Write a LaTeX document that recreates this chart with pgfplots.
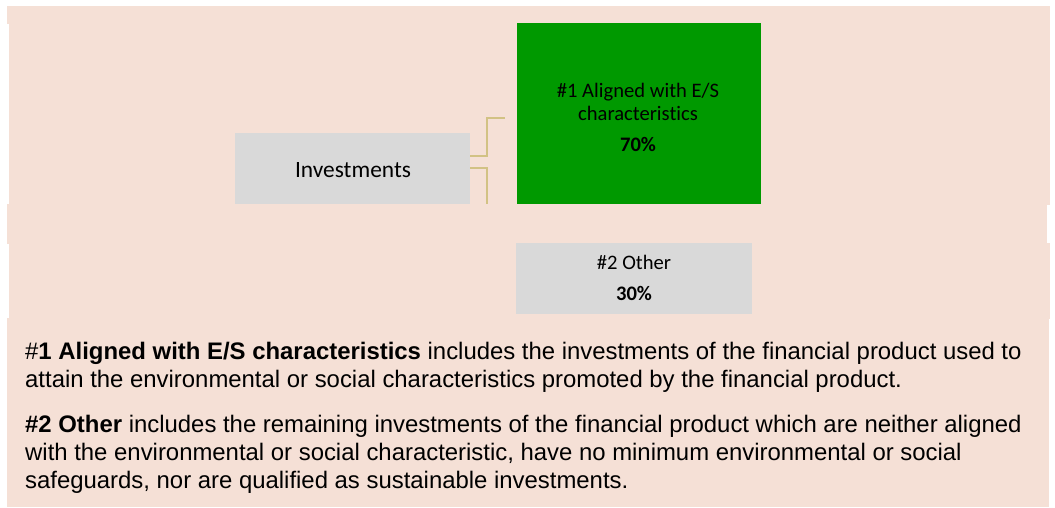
\documentclass[border=0pt]{standalone}
\usepackage{pgfplots}
\pgfplotsset{compat=1.18}
\usepackage{fontspec}
\setmainfont{Liberation Sans}
\newfontfamily\calfont[Ligatures=NoCommon]{Carlito}
\definecolor{peach}{HTML}{F5E0D6}
\definecolor{boxgreen}{HTML}{009900}
\definecolor{boxgrey}{HTML}{D9D9D9}
\definecolor{link}{HTML}{D2C284}

\begin{document}
\begin{tikzpicture}
\begin{axis}[
  width=1055pt, height=507pt, scale only axis,
  xmin=0, xmax=1055, ymin=0, ymax=507, y dir=reverse,
  hide axis, clip=false,
]
% page
\addplot[fill=white, draw=none] coordinates {(0,0) (1055,0) (1055,507) (0,507)} -- cycle;
% peach background, in bands
\addplot[fill=peach, draw=none] coordinates {(7,6) (1050,6) (1050,24) (7,24)} -- cycle;
\addplot[fill=peach, draw=none] coordinates {(9,23) (1050,23) (1050,205) (9,205)} -- cycle;
\addplot[fill=peach, draw=none] coordinates {(7,204) (1047,204) (1047,244) (7,244)} -- cycle;
\addplot[fill=peach, draw=none] coordinates {(9,243) (1050,243) (1050,319) (9,319)} -- cycle;
\addplot[fill=peach, draw=none] coordinates {(7,318) (1049,318) (1049,507) (7,507)} -- cycle;

% boxes
\addplot[fill=boxgrey, draw=none] coordinates {(235,133) (470,133) (470,204) (235,204)} -- cycle;
\addplot[fill=boxgreen, draw=none] coordinates {(517,23) (761,23) (761,204) (517,204)} -- cycle;
\addplot[fill=boxgrey, draw=none] coordinates {(516,243) (752,243) (752,314) (516,314)} -- cycle;

% connectors
\addplot[link, line width=1.6pt] coordinates {(470,156) (487,156) (487,118) (505,118)};
\addplot[link, line width=1.6pt] coordinates {(470,168) (487,168) (487,204)};

% box labels
\node[anchor=base, font=\calfont\fontsize{23.4}{26}\selectfont] at (axis cs:353,177) {Investments};
\node[anchor=base, font=\calfont\fontsize{20.6}{23}\selectfont] at (axis cs:638,97) {\#1 Aligned with E/S};
\node[anchor=base, font=\calfont\fontsize{20.6}{23}\selectfont] at (axis cs:638,120) {characteristics};
\node[anchor=base, font=\calfont\bfseries\fontsize{20.6}{23}\selectfont] at (axis cs:638,151) {70\%};
\node[anchor=base, font=\calfont\fontsize{20.6}{23}\selectfont] at (axis cs:634,269) {\#2 Other};
\node[anchor=base, font=\calfont\bfseries\fontsize{20.6}{23}\selectfont] at (axis cs:634,300) {30\%};

% explanatory text
\tikzset{expl/.style={anchor=base west, inner sep=0pt, font=\fontsize{23.9}{28}\selectfont}}
\node[expl] at (axis cs:25,359) {\#\textbf{1 Aligned with E/S characteristics} includes the investments of the financial product used to};
\node[expl] at (axis cs:25,387) {attain the environmental or social characteristics promoted by the financial product.};
\node[expl] at (axis cs:25,432) {\textbf{\#2 Other} includes the remaining investments of the financial product which are neither aligned};
\node[expl] at (axis cs:25,460) {with the environmental or social characteristic, have no minimum environmental or social};
\node[expl] at (axis cs:25,488) {safeguards, nor are qualified as sustainable investments.};
\end{axis}
\end{tikzpicture}
\end{document}
